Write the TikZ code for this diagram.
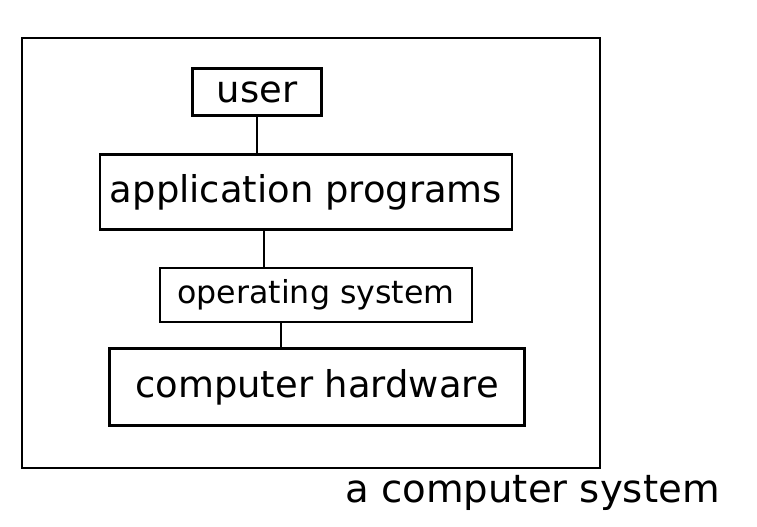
\documentclass[tikz,border=0pt]{standalone}
\usepackage{fontspec}
\setmainfont{DejaVu Sans}
\usetikzlibrary{positioning}

\begin{document}
\begin{tikzpicture}[
    layer/.style={rectangle, draw=black, line width=1.3pt, inner sep=0pt,
        text centered, font=\fontsize{21}{24}\selectfont},
    link/.style={draw=black, line width=1.3pt},
    frame/.style={draw=black, line width=1.6pt}
]
\useasboundingbox (0,0) rectangle (15.14,10.54);

% outer box
\draw [frame] (0.44,1.18) rectangle (12.0,9.78);

\node [layer, minimum width=2.58cm, minimum height=0.94cm] (user) at (5.14,8.7) {user};
\node [layer, minimum width=8.24cm, minimum height=1.5cm] (app) at (6.12,6.7) {application programs};
\node [layer, minimum width=6.24cm, minimum height=1.08cm,
       font=\fontsize{18}{22}\selectfont] (os) at (6.32,4.64) {operating system};
\node [layer, minimum width=8.3cm, minimum height=1.54cm] (hw) at (6.34,2.8) {computer hardware};

\node [font=\fontsize{22}{26}\selectfont] (caption) at (10.65,0.68) {a computer system};

\draw [link] (user.south) -- (user.south |- app.north);
\draw [link] ([xshift=-0.84cm]app.south) -- ([xshift=-0.84cm]app.south |- os.north);
\draw [link] ([xshift=-0.7cm]os.south) -- ([xshift=-0.7cm]os.south |- hw.north);

\end{tikzpicture}
\end{document}
